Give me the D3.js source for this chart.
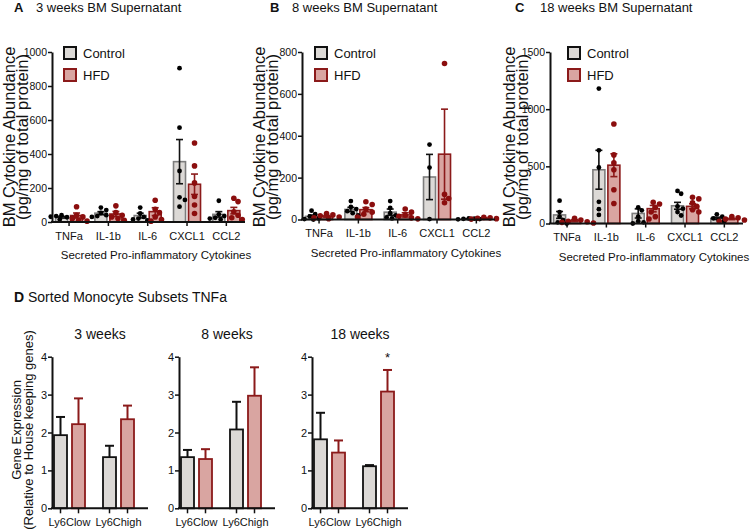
<!DOCTYPE html>
<html><head><meta charset="utf-8">
<script src="https://cdn.jsdelivr.net/npm/d3@7"></script>
<style>
body{margin:0;background:#fff}
svg{display:block}
text{font-family:"Liberation Sans",Arial,Helvetica,sans-serif;fill:#111}
</style>
</head><body>
<svg id="chart" width="754" height="530"></svg>
<script>
// ---------- DATA ----------
const cytokines = ["TNFa", "IL-1b", "IL-6", "CXCL1", "CCL2"];
const groups = ["Control", "HFD"];

// Panel A: 3 weeks
const ctrlMeanA = [28, 52, 38, 355, 45];
const ctrlSemA  = [5, 9, 14, 130, 16];
const hfdMeanA  = [38, 47, 61, 222, 67];
const hfdSemA   = [15, 15, 23, 60, 19];
const ctrlDotsA = [[40, 28, 35, 22, 31, 15], [85, 70, 53, 40, 35, 30], [85, 50, 30, 20, 15, 10], [905, 555, 300, 145, 130, 90], [125, 45, 35, 25, 20, 15]];
const hfdDotsA  = [[90, 40, 30, 20, 10, 5], [95, 55, 40, 30, 20, 10], [128, 75, 55, 30, 15, 5], [465, 330, 230, 150, 100, 50], [140, 120, 60, 40, 25, 15]];
const ticksA = [0, 200, 400, 600, 800, 1000];

// Panel B: 8 weeks
const ctrlMeanB = [15, 48, 35, 203, 3];
const ctrlSemB  = [6, 10, 15, 108, 1];
const hfdMeanB  = [15, 47, 22, 312, 6];
const hfdSemB   = [4, 10, 10, 215, 2];
const ctrlDotsB = [[42, 25, 15, 5, 2, 0], [88, 60, 50, 40, 30, 20], [88, 55, 30, 20, 10, 5], [358, 248, 2], [5, 4, 3, 2, 1]];
const hfdDotsB  = [[28, 22, 18, 12, 8, 4], [85, 72, 50, 35, 25, 12], [50, 35, 20, 15, 8, 3], [745, 120, 100, 80], [10, 8, 6, 4, 2]];
const ticksB = [0, 200, 400, 600, 800];

// Panel C: 18 weeks
const ctrlMeanC = [75, 470, 88, 155, 45];
const ctrlSemC  = [30, 170, 40, 30, 10];
const hfdMeanC  = [25, 510, 130, 150, 40];
const hfdSemC   = [8, 100, 28, 22, 6];
const ctrlDotsC = [[200, 100, 60, 30, 10, 0], [1180, 640, 490, 190, 125, 75], [140, 115, 60, 20, 10, 0], [285, 260, 150, 130, 100, 70], [80, 60, 45, 30, 20]];
const hfdDotsC  = [[45, 30, 20, 15, 10, 5], [870, 600, 530, 470, 295, 175], [185, 170, 140, 100, 60, 40], [230, 215, 180, 150, 120, 100], [60, 50, 40, 30, 20]];
const ticksC = [0, 500, 1000, 1500];

// Panel D: sorted monocyte subsets TNFa
const timepoints = ["3 weeks", "8 weeks", "18 weeks"];
const subsets = ["Ly6Clow", "Ly6Chigh"];
const dCtrlMean = [[1.93, 1.35], [1.35, 2.08], [1.82, 1.11]];
const dCtrlErr  = [[0.48, 0.30], [0.19, 0.73], [0.70, 0.03]];
const dHfdMean  = [[2.22, 2.35], [1.30, 2.97], [1.47, 3.08]];
const dHfdErr   = [[0.68, 0.36], [0.26, 0.75], [0.32, 0.57]];
const dSig      = [["", ""], ["", ""], ["", "*"]];
const ticksD = [0, 1, 2, 3, 4];

// ---------- STYLE ----------
const C = {
  ctrlFill: "#dcd9d6", hfdFill: "#d9a5a1",
  ctrlBarStroke: "#7d7d7d", ctrlStroke: "#111", hfdStroke: "#8b1a1a",
  ctrlDot: "#000", hfdDot: "#8b0e0e"
};
const svg = d3.select("#chart");

function styleAxis(g) {
  g.selectAll(".domain").attr("stroke", "#111").attr("stroke-width", 2);
  g.selectAll(".tick line").attr("stroke", "#111").attr("stroke-width", 1.5);
  g.selectAll(".tick text").attr("fill", "#111");
}

function swarm(vals, y, cx, r) {
  const placed = [];
  vals.forEach(v => {
    const py = y(v);
    const s = r * 0.75;
    for (let k = 0; k < 60; k++) {
      const off = k === 0 ? 0 : (k % 2 ? 1 : -1) * Math.ceil(k / 2) * s;
      const px = cx + off;
      if (placed.every(q => (q.px - px) ** 2 + (q.py - py) ** 2 >= (1.9 * r) ** 2)) {
        placed.push({px, py}); break;
      }
    }
  });
  return placed;
}

// ---------- PANELS A-C ----------
function cytoPanel(cfg, ctrlMean, ctrlSem, hfdMean, hfdSem, ctrlDots, hfdDots, ticks) {
  const g = svg.append("g");
  const x = d3.scaleBand().domain(cytokines).range([cfg.x0 - 2.6, cfg.x0 + 194]);
  const xs = d3.scaleBand().domain(groups).range([-15, 15]);
  const y = d3.scaleLinear().domain([0, ticks[ticks.length - 1]]).range([cfg.y0, 52]);
  const bw = 12;

  g.append("text").attr("x", cfg.lx).attr("y", 12).attr("font-size", 13).attr("font-weight", "bold").text(cfg.letter);
  g.append("text").attr("x", cfg.tx).attr("y", 12).attr("font-size", 13).text(cfg.title);

  const yt = g.append("g").attr("transform", `translate(${cfg.ytx},137) rotate(-90)`);
  yt.append("text").attr("text-anchor", "middle").attr("y", 0).attr("font-size", 16.5).text("BM Cytokine Abundance");
  yt.append("text").attr("text-anchor", "middle").attr("y", 13).attr("font-size", 16.5).text("(pg/mg of total protein)");

  g.append("text").attr("x", cfg.x0 + 104).attr("y", cfg.y0 + 37).attr("text-anchor", "middle")
    .attr("font-size", 11.5).text("Secreted Pro-inflammatory Cytokines");

  const series = [
    {key: "Control", mean: ctrlMean, sem: ctrlSem, dots: ctrlDots, fill: C.ctrlFill, stroke: C.ctrlBarStroke, err: C.ctrlStroke, dot: C.ctrlDot, r: 2.4},
    {key: "HFD", mean: hfdMean, sem: hfdSem, dots: hfdDots, fill: C.hfdFill, stroke: C.hfdStroke, err: C.hfdStroke, dot: C.hfdDot, r: 2.8}
  ];
  series.forEach(s => {
    const cxs = cytokines.map(c => x(c) + x.bandwidth() / 2 + xs(s.key) + xs.bandwidth() / 2);
    g.append("g").selectAll("rect").data(cytokines).join("rect")
      .attr("x", (c, i) => cxs[i] - bw / 2).attr("width", bw)
      .attr("y", (c, i) => y(s.mean[i])).attr("height", (c, i) => y(0) - y(s.mean[i]))
      .attr("fill", s.fill).attr("stroke", s.stroke).attr("stroke-width", 1.6);
    const eg = g.append("g").attr("stroke", s.err).attr("stroke-width", 1.6);
    cytokines.forEach((c, i) => {
      const hi = y(s.mean[i] + s.sem[i]), lo = y(Math.max(0, s.mean[i] - s.sem[i]));
      eg.append("line").attr("x1", cxs[i]).attr("x2", cxs[i]).attr("y1", hi).attr("y2", lo);
      eg.append("line").attr("x1", cxs[i] - 3.5).attr("x2", cxs[i] + 3.5).attr("y1", hi).attr("y2", hi);
      eg.append("line").attr("x1", cxs[i] - 3.5).attr("x2", cxs[i] + 3.5).attr("y1", lo).attr("y2", lo);
    });
  });
  series.forEach(s => {
    const cxs = cytokines.map(c => x(c) + x.bandwidth() / 2 + xs(s.key) + xs.bandwidth() / 2);
    cytokines.forEach((c, i) => {
      const pts = swarm(s.dots[i], y, cxs[i], s.r);
      g.append("g").selectAll("circle").data(pts).join("circle")
        .attr("cx", d => d.px).attr("cy", d => d.py).attr("r", s.r).attr("fill", s.dot);
    });
  });

  const ya = g.append("g").attr("transform", `translate(${cfg.x0},0)`)
    .call(d3.axisLeft(y).tickValues(ticks).tickSize(4).tickSizeOuter(0).tickPadding(1).tickFormat(d3.format("d")));
  ya.selectAll(".tick text").attr("font-size", 10.5);
  styleAxis(ya);
  const xa = g.append("g").attr("transform", `translate(0,${cfg.y0})`)
    .call(d3.axisBottom(x).tickSize(4).tickSizeOuter(0).tickPadding(6));
  xa.select(".domain").remove();
  xa.selectAll(".tick text").attr("font-size", 11);
  styleAxis(xa);
  g.append("line").attr("x1", cfg.x0 - 1).attr("x2", cfg.x0 + 193).attr("y1", cfg.y0).attr("y2", cfg.y0)
    .attr("stroke", "#111").attr("stroke-width", 2);

  const leg = g.append("g").attr("transform", `translate(${cfg.legx},47)`);
  [[C.ctrlFill, C.ctrlStroke, "Control"], [C.hfdFill, C.hfdStroke, "HFD"]].forEach((d, i) => {
    leg.append("rect").attr("x", 0).attr("y", i * 22).attr("width", 12).attr("height", 12)
      .attr("fill", d[0]).attr("stroke", d[1]).attr("stroke-width", 2);
    leg.append("text").attr("x", 19).attr("y", i * 22 + 11).attr("font-size", 13).text(d[2]);
  });
}

cytoPanel({x0: 52, y0: 222, letter: "A", lx: 14, tx: 36, title: "3 weeks BM Supernatant", ytx: 15, legx: 64},
  ctrlMeanA, ctrlSemA, hfdMeanA, hfdSemA, ctrlDotsA, hfdDotsA, ticksA);
cytoPanel({x0: 302, y0: 219.5, letter: "B", lx: 270, tx: 292, title: "8 weeks BM Supernatant", ytx: 265, legx: 315},
  ctrlMeanB, ctrlSemB, hfdMeanB, hfdSemB, ctrlDotsB, hfdDotsB, ticksB);
cytoPanel({x0: 550, y0: 223.5, letter: "C", lx: 515, tx: 540, title: "18 weeks BM Supernatant", ytx: 515, legx: 568},
  ctrlMeanC, ctrlSemC, hfdMeanC, hfdSemC, ctrlDotsC, hfdDotsC, ticksC);

// ---------- PANEL D ----------
const gD = svg.append("g");
gD.append("text").attr("x", 14).attr("y", 302).attr("font-size", 14).attr("font-weight", "bold").text("D");
gD.append("text").attr("x", 28).attr("y", 302).attr("font-size", 14).text("Sorted Monocyte Subsets TNFa");
const ytD = gD.append("g").attr("transform", "translate(21,430) rotate(-90)");
ytD.append("text").attr("text-anchor", "middle").attr("font-size", 13).text("Gene Expression");
ytD.append("text").attr("text-anchor", "middle").attr("y", 12).attr("font-size", 13).text("(Relative to House keeping genes)");

const dX0 = [52, 179, 312];
const dY = d3.scaleLinear().domain([0, 4]).range([508.3, 356.7]);
timepoints.forEach((tp, ti) => {
  const x0 = dX0[ti];
  const g = gD.append("g");
  const x = d3.scaleBand().domain(subsets).range([x0 - 7, x0 + 91]);
  const xs = d3.scaleBand().domain(groups).range([-18, 18]);
  const bw = 13;
  g.append("text").attr("x", x0 + 48).attr("y", 339).attr("text-anchor", "middle").attr("font-size", 14).text(tp);
  const series = [
    {key: "Control", mean: dCtrlMean[ti], err: dCtrlErr[ti], fill: C.ctrlFill, stroke: C.ctrlStroke, sig: ["", ""]},
    {key: "HFD", mean: dHfdMean[ti], err: dHfdErr[ti], fill: C.hfdFill, stroke: C.hfdStroke, sig: dSig[ti]}
  ];
  const tickXs = [];
  series.forEach(s => {
    subsets.forEach((sub, i) => {
      const cx = x(sub) + x.bandwidth() / 2 + xs(s.key) + xs.bandwidth() / 2;
      tickXs.push(cx);
      const top = dY(s.mean[i] + s.err[i]);
      g.append("line").attr("x1", cx).attr("x2", cx).attr("y1", top).attr("y2", dY(s.mean[i]))
        .attr("stroke", s.stroke).attr("stroke-width", 2);
      g.append("line").attr("x1", cx - 4.5).attr("x2", cx + 4.5).attr("y1", top).attr("y2", top)
        .attr("stroke", s.stroke).attr("stroke-width", 2);
      g.append("rect").attr("x", cx - bw / 2).attr("width", bw)
        .attr("y", dY(s.mean[i])).attr("height", dY(0) - dY(s.mean[i]))
        .attr("fill", s.fill).attr("stroke", s.stroke).attr("stroke-width", 1.8);
      if (s.sig[i]) {
        g.append("text").attr("x", cx).attr("y", top - 8).attr("text-anchor", "middle")
          .attr("font-size", 13).text(s.sig[i]);
      }
    });
  });
  const ya = g.append("g").attr("transform", `translate(${x0},0)`)
    .call(d3.axisLeft(dY).tickValues(ticksD).tickSize(4).tickSizeOuter(0).tickPadding(1).tickFormat(d3.format("d")));
  ya.selectAll(".tick text").attr("font-size", 11);
  styleAxis(ya);
  g.append("line").attr("x1", x0 - 1).attr("x2", x0 + 96).attr("y1", dY(0)).attr("y2", dY(0))
    .attr("stroke", "#111").attr("stroke-width", 2);
  g.append("g").selectAll("line").data(tickXs).join("line")
    .attr("x1", d => d).attr("x2", d => d).attr("y1", dY(0)).attr("y2", dY(0) + 5)
    .attr("stroke", "#111").attr("stroke-width", 1.5);
  subsets.forEach(sub => {
    g.append("text").attr("x", x(sub) + x.bandwidth() / 2).attr("y", 526).attr("text-anchor", "middle")
      .attr("font-size", 11).text(sub);
  });
});
</script>
</body></html>
